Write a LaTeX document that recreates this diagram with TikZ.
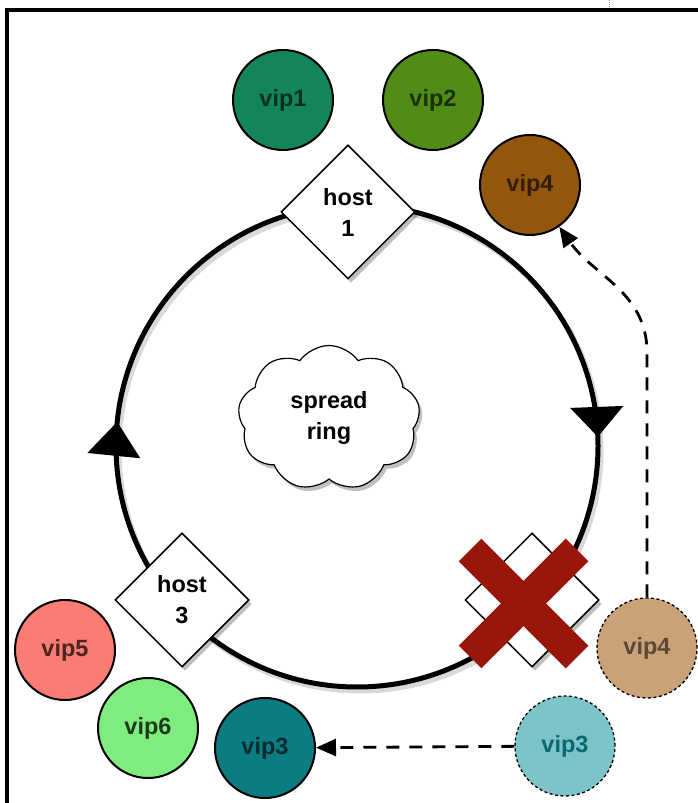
\documentclass[tikz,border=0pt]{standalone}
\usepackage{fontspec}
\setmainfont{Liberation Sans}
\usepackage{tikz}
\usetikzlibrary{shapes.geometric,shapes.symbols,arrows.meta,decorations.markings,shadows}

\definecolor{vipone}{RGB}{18,134,88}
\definecolor{viptwo}{RGB}{80,140,22}
\definecolor{vipthree}{RGB}{10,124,130}
\definecolor{vipfour}{RGB}{146,86,12}
\definecolor{vipfive}{RGB}{250,125,115}
\definecolor{vipsix}{RGB}{125,238,125}
\definecolor{oldthree}{RGB}{125,196,200}
\definecolor{oldfour}{RGB}{202,162,122}
\definecolor{crossred}{RGB}{152,22,12}

\begin{document}
\begin{tikzpicture}[
    x=1pt, y=1pt,
    bigfont/.style={font=\fontsize{23.5}{31}\selectfont\bfseries},
    vip/.style={circle, draw, line width=2pt, minimum size=100pt, inner sep=0pt, bigfont},
    oldvip/.style={vip, line width=1.3pt, dash pattern=on 3pt off 2.5pt},
    host/.style={diamond, draw, fill=white, line width=1.5pt, minimum size=134pt, inner sep=0pt, align=center, bigfont,
        drop shadow={shadow xshift=3pt, shadow yshift=-4pt, fill=black, opacity=0.25}},
    ring/.style={line width=5pt},
    moved/.style={line width=2.8pt, dash pattern=on 13pt off 10pt, -{Triangle[width=17pt,length=20pt]}}
]
    \useasboundingbox (0,0) rectangle (698,803);
    \draw[line width=3.5pt] (7,0) -- (7,793) -- (698,793);
    \draw[black!40, densely dotted, line width=1pt] (609,803) -- (609,795);

    \coordinate (ringc) at (357,357);
    \draw[ring, black!25, opacity=0.6] ([shift={(3,-4)}]ringc) circle[radius=241];
    \draw[ring, postaction={decorate}, decoration={markings,
        mark=at position 0.006 with {\arrowreversed{Triangle[width=52pt,length=30pt]}},
        mark=at position 0.484 with {\arrowreversed{Triangle[width=52pt,length=34pt]}}}]
        (ringc) circle[radius=241];

    \node[cloud, draw, fill=white, line width=1.2pt, cloud puffs=9, cloud puff arc=110, aspect=1.3,
        minimum width=182pt, minimum height=145pt, align=center, bigfont,
        drop shadow={shadow xshift=3pt, shadow yshift=-4pt, fill=black, opacity=0.25}]
        (spread) at (329,385) {spread\\ring};

    \node[host] (hostone) at (348,591) {host\\1};
    \node[host] (hostthree) at (182,203) {host\\3};
    \node[host] (hosttwo) at (532,203) {};
    \draw[crossred, line width=32pt] ([shift={(-62,50)}]hosttwo.center) -- ([shift={(45,-57)}]hosttwo.center);
    \draw[crossred, line width=32pt] ([shift={(45,50)}]hosttwo.center) -- ([shift={(-62,-57)}]hosttwo.center);

    \node[vip, fill=vipone, text=vipone!35!black] (vipone) at (283,703) {vip1};
    \node[vip, fill=viptwo, text=viptwo!35!black] (viptwo) at (433,703) {vip2};
    \node[vip, fill=vipfour, text=vipfour!35!black] (vipfour) at (530,618) {vip4};
    \node[vip, fill=vipfive, text=vipfive!30!black] (vipfive) at (65,153) {vip5};
    \node[vip, fill=vipsix, text=vipsix!25!black] (vipsix) at (148,75) {vip6};
    \node[vip, fill=vipthree, text=vipthree!35!black] (vipthree) at (265,55) {vip3};

    \node[oldvip, fill=oldfour, text=oldfour!45!black] (oldfour) at (647,155) {vip4};
    \node[oldvip, fill=oldthree, text=vipthree!85!black] (oldthree) at (565,57) {vip3};

    \draw[moved] (oldthree) -- (vipthree);
    \draw[moved] (oldfour.north) -- ++(0,245) to[out=90, in=-55] (vipfour);
\end{tikzpicture}
\end{document}
